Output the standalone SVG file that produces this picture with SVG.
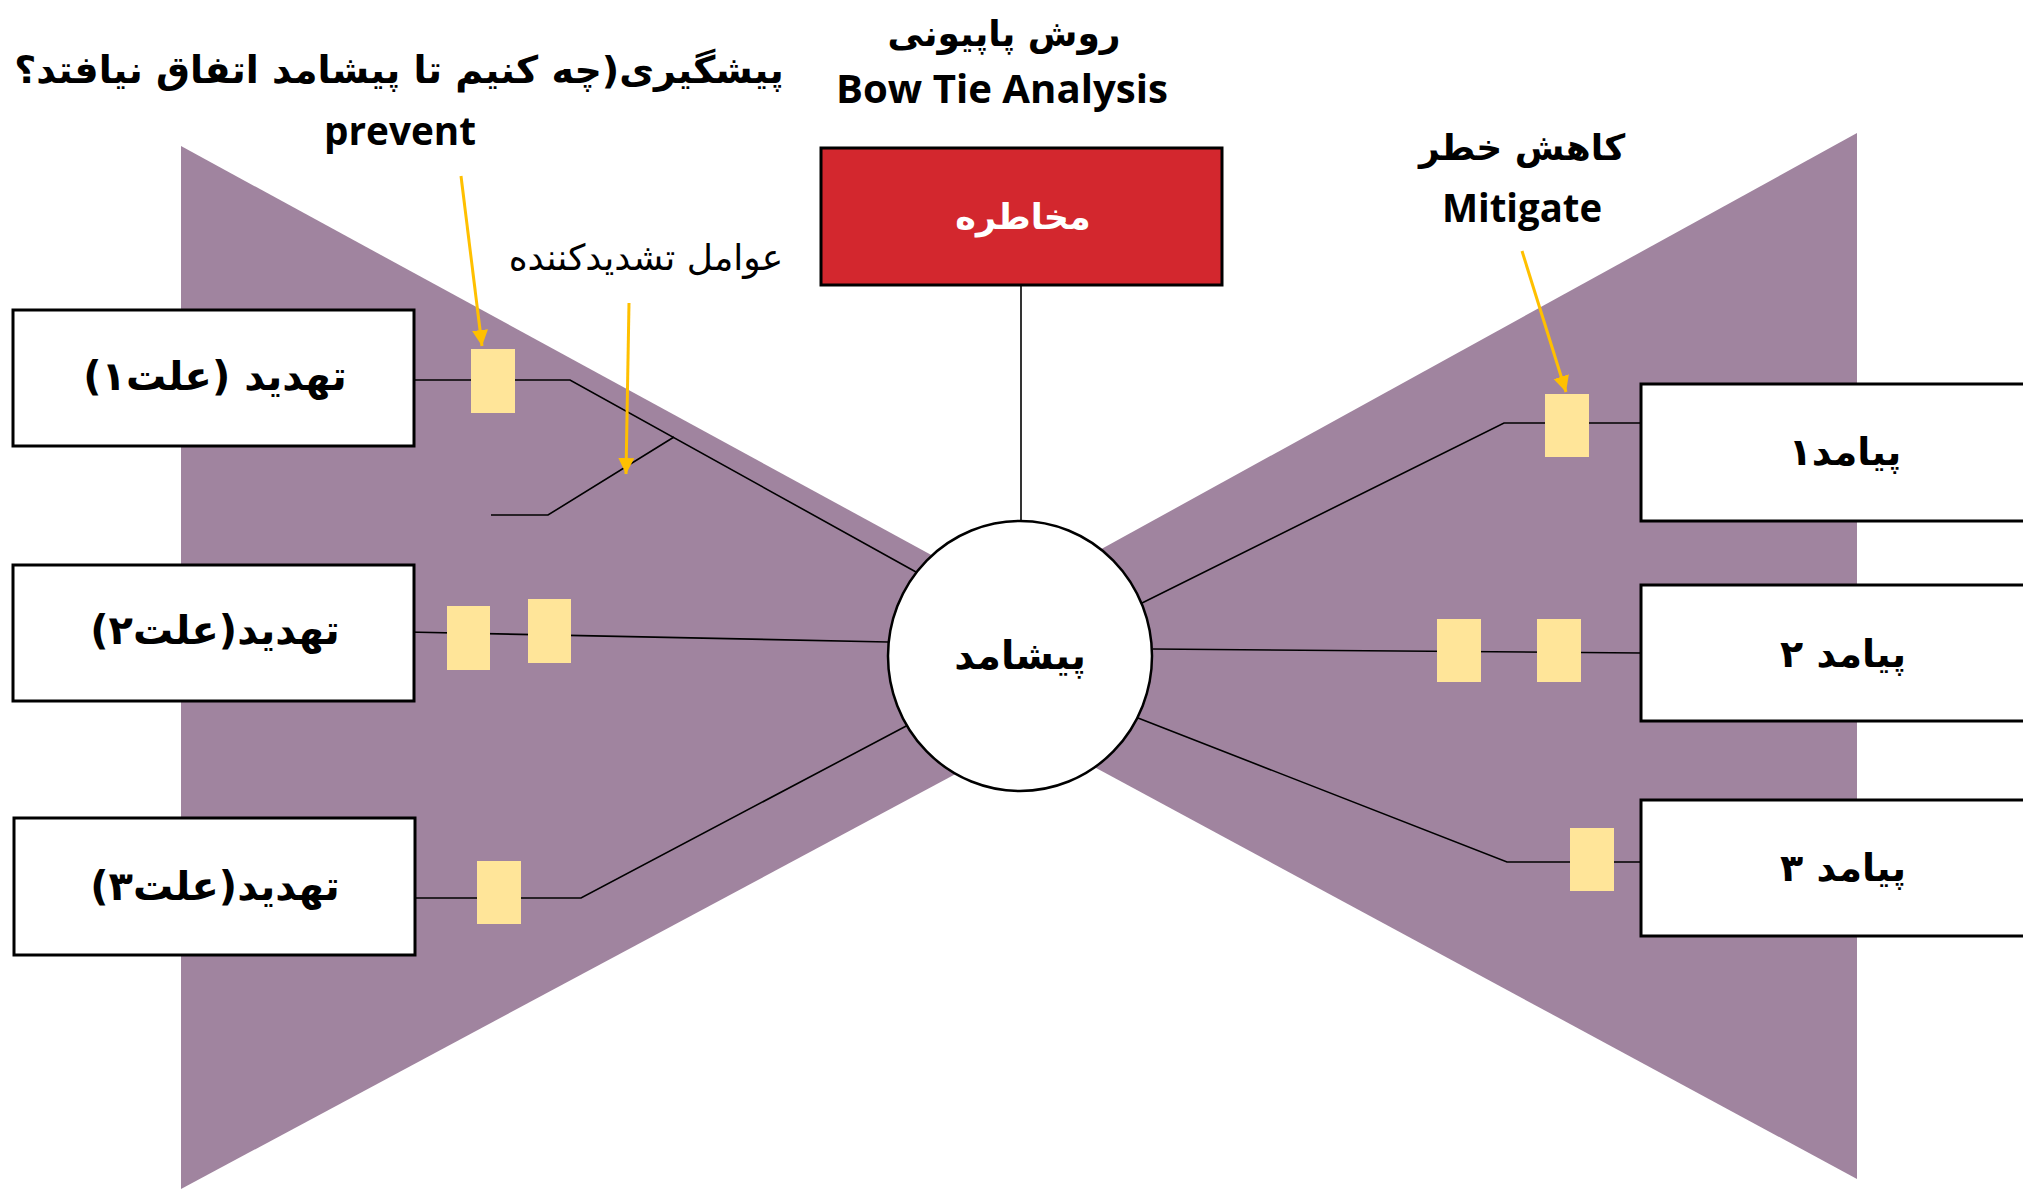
<svg xmlns="http://www.w3.org/2000/svg" width="2023" height="1189" viewBox="0 0 2023 1189">
<style>
.bg{fill:#A0849F;stroke:none}
.box{fill:#FFFFFF;stroke:#000000;stroke-width:3}
.haz{fill:#D3272E;stroke:#000000;stroke-width:3}
.ev{fill:#FFFFFF;stroke:#000000;stroke-width:2.5}
.bar{fill:#FFE599;stroke:none}
.ln{fill:none;stroke:#000000;stroke-width:1.6}
.ya{fill:none;stroke:#FFC000;stroke-width:3}
.fa{font-family:"DejaVu Sans",sans-serif;font-weight:bold;fill:#000000;text-anchor:middle}
.fr{font-family:"DejaVu Sans",sans-serif;font-weight:normal;fill:#000000;text-anchor:middle}
.en{font-family:"Open Sans","Noto Sans",sans-serif;font-weight:bold;fill:#000000;text-anchor:middle}
</style>
<defs>
<marker id="yh" markerUnits="userSpaceOnUse" markerWidth="18" markerHeight="18" refX="16" refY="8" orient="auto">
<path d="M0,0 L16,8 L0,16 Z" fill="#FFC000"/>
</marker>
</defs>

<g id="bowtie">
<polygon class="bg" points="181,146 1146,672 181,1189"/>
<polygon class="bg" points="1857,133 898,661 1857,1179"/>
</g>

<g id="connectors">
<line class="ln" x1="1021" y1="286" x2="1021" y2="521"/>
<polyline class="ln" points="414,380 570,380 916,572"/>
<polyline class="ln" points="491,515 548,515 674,437"/>
<polyline class="ln" points="407,632 888,642"/>
<polyline class="ln" points="414,898 581,898 910,724"/>
<polyline class="ln" points="1138,605 1504,423 1645,423"/>
<polyline class="ln" points="1153,649 1641,653"/>
<polyline class="ln" points="1138,718 1507,862 1645,862"/>
<line class="ya" x1="461" y1="176" x2="482" y2="346" marker-end="url(#yh)"/>
<line class="ya" x1="629" y1="303" x2="626" y2="474" marker-end="url(#yh)"/>
<line class="ya" x1="1522" y1="251" x2="1566" y2="392" marker-end="url(#yh)"/>
</g>

<g id="barriers">
<rect class="bar" x="471" y="349" width="44" height="64"/>
<rect class="bar" x="447" y="606" width="43" height="64"/>
<rect class="bar" x="528" y="599" width="43" height="64"/>
<rect class="bar" x="477" y="861" width="44" height="63"/>
<rect class="bar" x="1545" y="394" width="44" height="63"/>
<rect class="bar" x="1437" y="619" width="44" height="63"/>
<rect class="bar" x="1537" y="619" width="44" height="63"/>
<rect class="bar" x="1570" y="828" width="44" height="63"/>
</g>

<g id="threat1">
<rect class="box" x="13" y="310" width="401" height="136"/>
<text class="fa" x="215" y="390" font-size="40" direction="rtl">تهدید (علت۱)</text>
</g>
<g id="threat2">
<rect class="box" x="13" y="565" width="401" height="136"/>
<text class="fa" x="215" y="644" font-size="40" direction="rtl">تهدید(علت۲)</text>
</g>
<g id="threat3">
<rect class="box" x="14" y="818" width="401" height="137"/>
<text class="fa" x="215" y="900" font-size="40" direction="rtl">تهدید(علت۳)</text>
</g>

<g id="hazard">
<rect class="haz" x="821" y="148" width="401" height="137"/>
<text class="fa" x="1023" y="229" font-size="35" direction="rtl" style="fill:#FFFFFF">مخاطره</text>
</g>

<g id="topevent">
<ellipse class="ev" cx="1020" cy="656" rx="132" ry="135"/>
<text class="fa" x="1020" y="669" font-size="39" direction="rtl">پیشامد</text>
</g>

<g id="consequence1">
<rect class="box" x="1641" y="384" width="400" height="137"/>
<text class="fa" x="1845" y="465" font-size="38" direction="rtl">پیامد۱</text>
</g>
<g id="consequence2">
<rect class="box" x="1641" y="585" width="400" height="136"/>
<text class="fa" x="1843" y="667" font-size="38" direction="rtl">پیامد ۲</text>
</g>
<g id="consequence3">
<rect class="box" x="1641" y="800" width="400" height="136"/>
<text class="fa" x="1843" y="881" font-size="38" direction="rtl">پیامد ۳</text>
</g>

<g id="labels">
<text class="fa" x="1004" y="46" font-size="36" direction="rtl">روش پاپیونی</text>
<text class="en" x="1002" y="103" font-size="40" textLength="332" lengthAdjust="spacingAndGlyphs">Bow Tie Analysis</text>
<text class="fa" x="399" y="83" font-size="38" direction="rtl">پیشگیری(چه کنیم تا پیشامد اتفاق نیافتد؟</text>
<text class="en" x="400" y="145" font-size="40" textLength="152" lengthAdjust="spacingAndGlyphs">prevent</text>
<text class="fr" x="646" y="270" font-size="36" direction="rtl">عوامل تشدیدکننده</text>
<text class="fa" x="1522" y="160" font-size="36" direction="rtl">کاهش خطر</text>
<text class="en" x="1522" y="222" font-size="40" textLength="160" lengthAdjust="spacingAndGlyphs">Mitigate</text>
</g>
</svg>
